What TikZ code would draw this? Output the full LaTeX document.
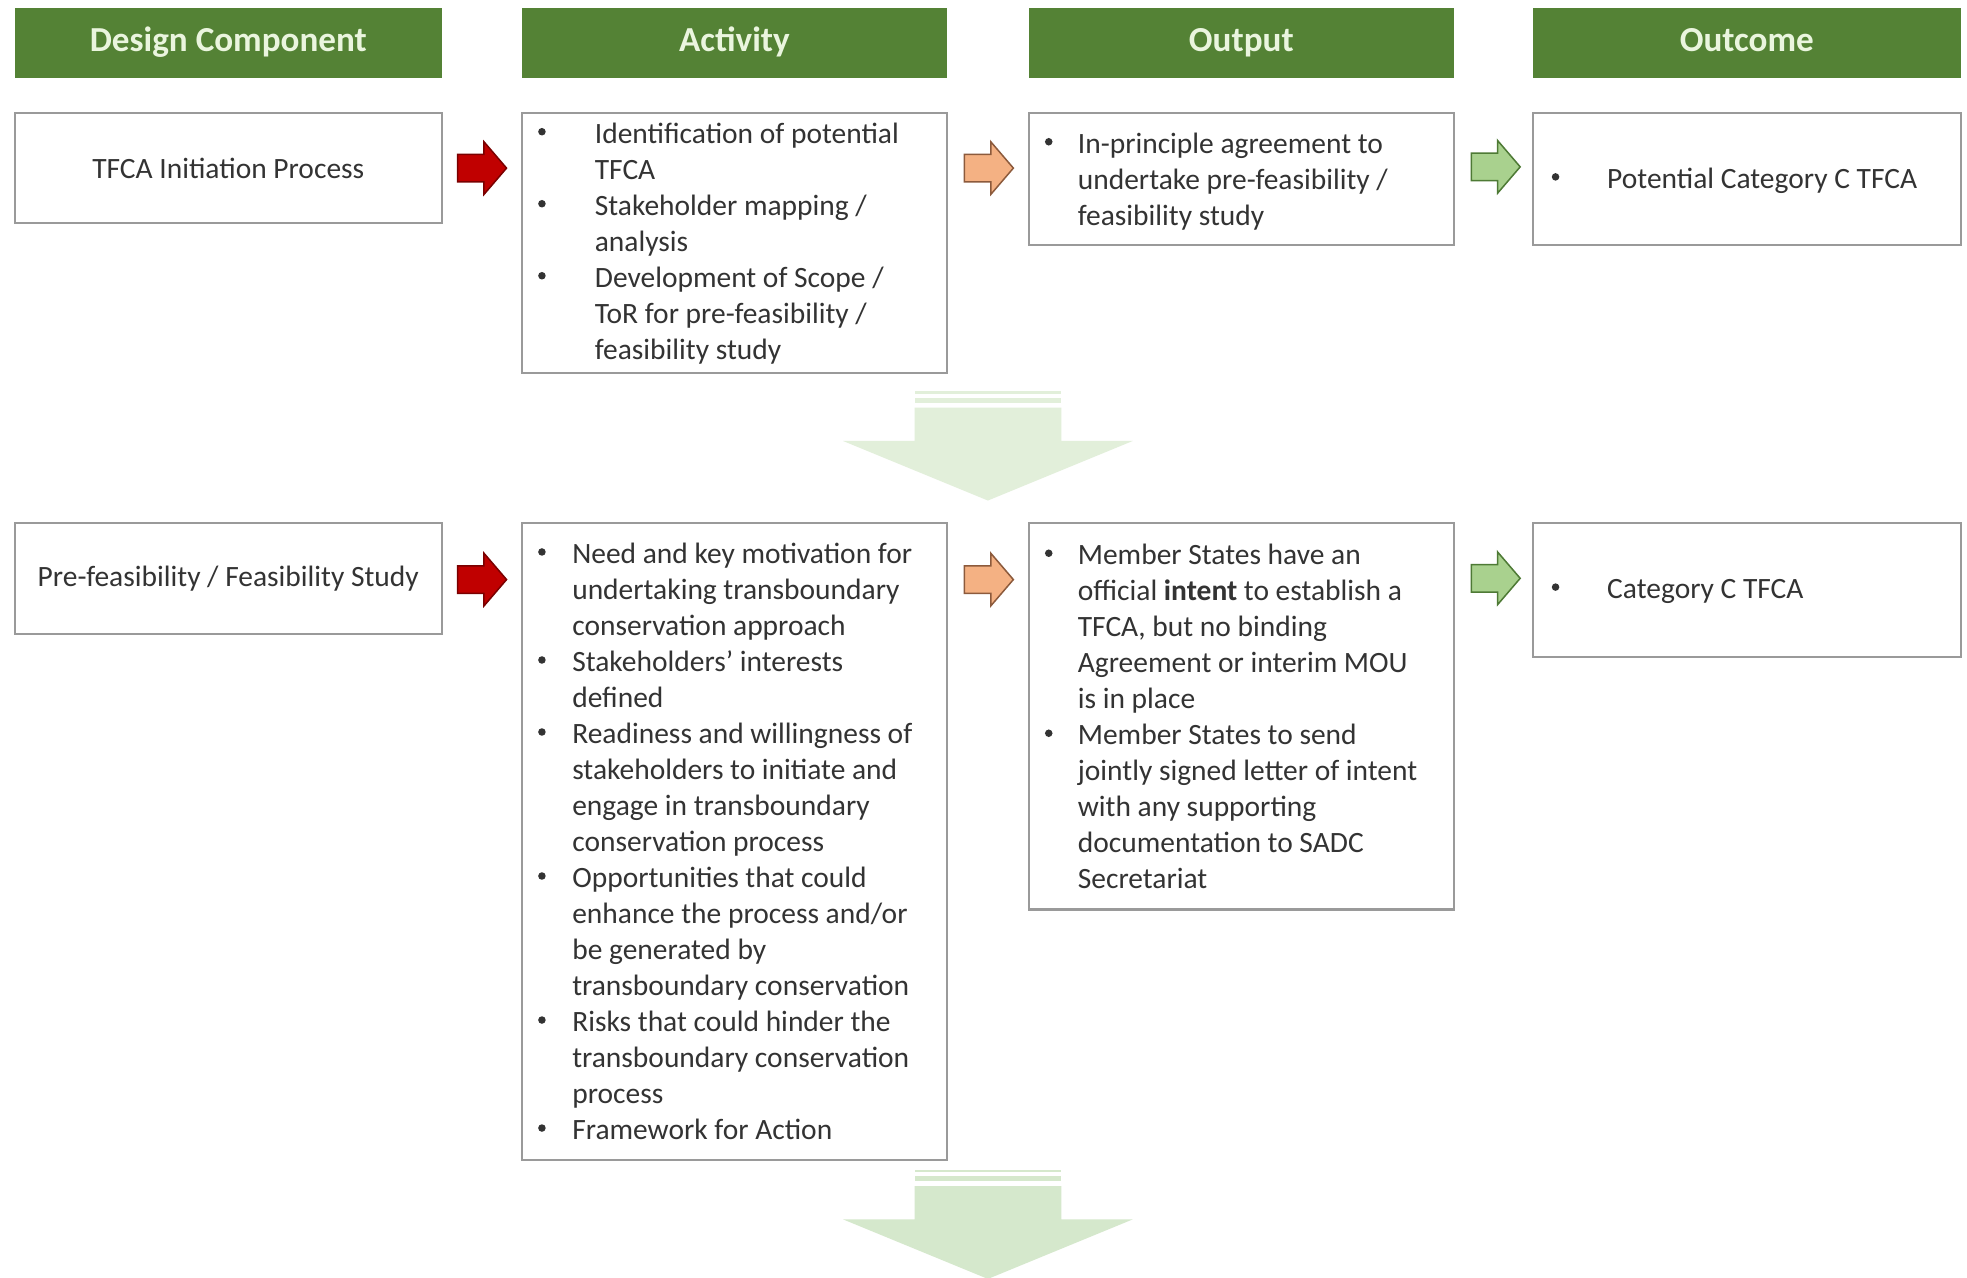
\documentclass[tikz,border=0pt]{standalone}
\usepackage{fontspec}
\setmainfont{Carlito}
\usetikzlibrary{calc}
\definecolor{hdrgreen}{HTML}{548235}
\definecolor{hdrtext}{HTML}{EAF5DE}
\definecolor{boxgray}{HTML}{9A9A9A}
\definecolor{txtgray}{HTML}{333333}
\definecolor{redfill}{HTML}{C00000}
\definecolor{redline}{HTML}{7A0000}
\definecolor{orfill}{HTML}{F4B183}
\definecolor{orline}{HTML}{8C5A3C}
\definecolor{grfill}{HTML}{A9D18E}
\definecolor{grline}{HTML}{4E7A35}
\definecolor{dnone}{HTML}{E2EFDA}
\definecolor{dntwo}{HTML}{D5E8CC}
\newcommand\txtlines[4]{%
  \foreach \t [count=\i] in {#4}
    \node[bodytxt] (#1-\i) at (#2, {#3+(\i-1)*28.7}) {\t};}
\newcommand\blockarr[3]{%
  \draw[fill=#2, draw=#3, line width=1.2pt, line join=miter, shift={(#1)}]
    (0,-11) -- (21,-11) -- (21,-21) -- (39,0) -- (21,21) -- (21,11) -- (0,11) -- cycle;}
\newcommand\bigdown[2]{%
  \fill[#2, shift={(#1)}] (-58.5,0) rectangle (58.5,2);
  \fill[#2, shift={(#1)}] (-58.5,5) rectangle (58.5,9);
  \fill[#2, shift={(#1)}] (-58.5,13) -- (58.5,13) -- (58.5,39.5) -- (115.5,39.5) -- (0,87) -- (-115.5,39.5) -- (-58.5,39.5) -- cycle;}
\begin{document}
\begin{tikzpicture}[x=1pt,y=-1pt,
  hdr/.style={fill=hdrgreen, draw=none, minimum height=56pt, inner sep=0pt, text=hdrtext, text height=19pt, text depth=5pt, font=\fontsize{28}{32}\selectfont\bfseries},
  box/.style={draw=boxgray, line width=1.6pt, fill=white, inner sep=0pt, text=txtgray, font=\fontsize{23.5}{28.7}\selectfont},
  bodytxt/.style={font=\fontsize{23.5}{28.7}\selectfont, text=txtgray, inner sep=0pt, anchor=base west},
  bul/.style={circle, fill=txtgray, draw=none, inner sep=0pt, minimum size=6pt, yshift=9pt},
]
\useasboundingbox (0,0) rectangle (1568,1018);
\fill[white] (0,0) rectangle (1568,1018);

% headers
\node[hdr, minimum width=340pt] (h1) at (182,34) {Design Component};
\node[hdr, minimum width=339pt] (h2) at (585.5,34) {Activity};
\node[hdr, minimum width=339pt] (h3) at (989.5,34) {Output};
\node[hdr, minimum width=341pt] (h4) at (1392.5,34) {Outcome};

% row 1 boxes
\node[box, minimum width=340pt, minimum height=88pt] (dc1) at (182,134) {TFCA Initiation Process};
\node[box, minimum width=339pt, minimum height=207pt] (act1) at (585.5,193.5) {};
\node[box, minimum width=339pt, minimum height=105pt] (out1) at (989.5,142.5) {};
\node[box, minimum width=341pt, minimum height=105pt] (oc1) at (1392.5,142.5) {};

% row 2 boxes
\node[box, minimum width=340pt, minimum height=88pt] (dc2) at (182,461) {Pre-feasibility / Feasibility Study};
\node[box, minimum width=339pt, minimum height=508pt] (act2) at (585.5,671) {};
\node[box, minimum width=339pt, minimum height=308pt] (out2) at (989.5,571) {};
\node[box, minimum width=341pt, minimum height=107pt] (oc2) at (1392.5,470.5) {};

% row 1 texts
\txtlines{a1}{474}{114}{Identification of potential, TFCA, Stakeholder mapping /, analysis, Development of Scope /, ToR for pre-feasibility /, feasibility study}
\node[bul] (a1b1) at (432,114) {};
\node[bul] (a1b2) at (432,171.4) {};
\node[bul] (a1b3) at (432,228.8) {};

\txtlines{o1}{859}{122}{In-principle agreement to, undertake pre-feasibility /, feasibility study}
\node[bul] (o1b1) at (836,122) {};

\node[bodytxt] (c1-1) at (1281,150) {Potential Category C TFCA};
\node[bul] (c1b1) at (1240,150) {};

% row 2 texts
\txtlines{a2}{456}{449}{Need and key motivation for, undertaking transboundary, conservation approach, Stakeholders’ interests, defined, Readiness and willingness of, stakeholders to initiate and, engage in transboundary, conservation process, Opportunities that could, enhance the process and/or, be generated by, transboundary conservation, Risks that could hinder the, transboundary conservation, process, Framework for Action}
\foreach \k in {1,4,6,10,14,17}
  \node[bul] (a2b\k) at (432,{449+(\k-1)*28.7}) {};

\txtlines{o2}{859}{450}{Member States have an, official \textbf{intent} to establish a, {TFCA, but no binding}, Agreement or interim MOU, is in place, Member States to send, jointly signed letter of intent, with any supporting, documentation to SADC, Secretariat}
\node[bul] (o2b1) at (836,450) {};
\node[bul] (o2b6) at (836,{450+5*28.7}) {};

\node[bodytxt] (c2-1) at (1281,477) {Category C TFCA};
\node[bul] (c2b1) at (1240,477) {};

% block arrows
\coordinate (r1) at ($(dc1.east)+(12,0)$);
\coordinate (p1) at ($(act1.east |- dc1.east)+(13,0)$);
\coordinate (g1) at ($(out1.east |- dc1.east)+(13,-1)$);
\coordinate (r2) at ($(dc2.east)+(12,1)$);
\coordinate (p2) at ($(act2.east |- dc2.east)+(13,1)$);
\coordinate (g2) at ($(out2.east |- dc2.east)+(13,0)$);
\blockarr{r1}{redfill}{redline}
\blockarr{p1}{orfill}{orline}
\blockarr{g1}{grfill}{grline}
\blockarr{r2}{redfill}{redline}
\blockarr{p2}{orfill}{orline}
\blockarr{g2}{grfill}{grline}

% down arrows
\coordinate (d1) at ($(act1.east)!0.5!(out1.west)$);
\coordinate (d1t) at (d1 |- 0,312);
\coordinate (d2t) at (d1 |- 0,932.5);
\bigdown{d1t}{dnone}
\bigdown{d2t}{dntwo}
\end{tikzpicture}
\end{document}
